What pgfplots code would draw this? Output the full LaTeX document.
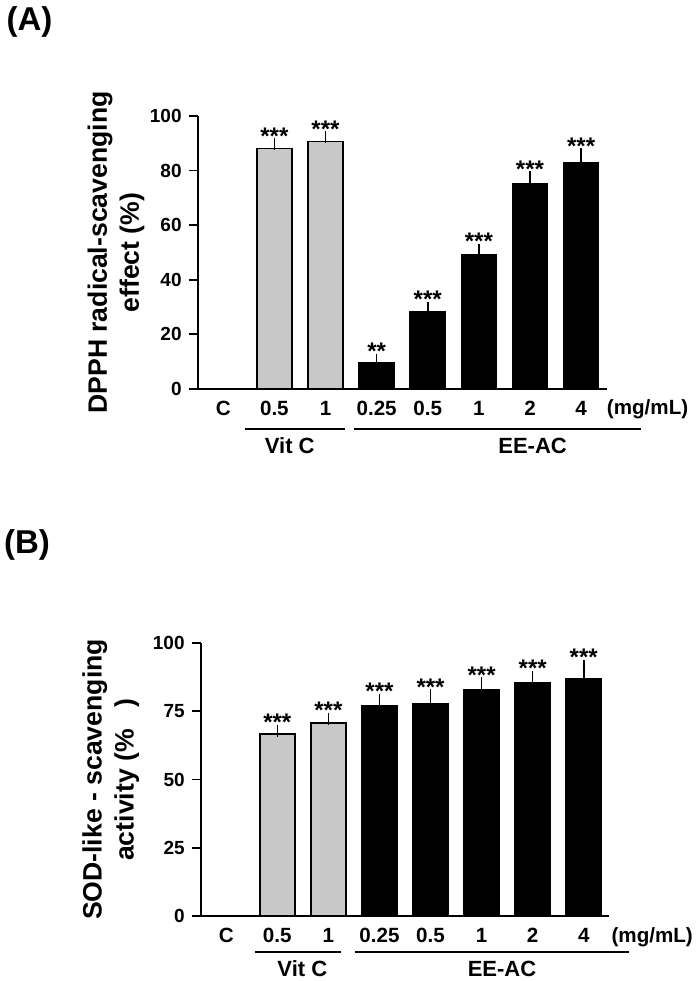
\documentclass[border=0pt]{standalone}
\usepackage{fontspec}
\setmainfont{Liberation Sans}
\usepackage{pgfplots}
\pgfplotsset{compat=1.18}
\definecolor{vitc}{RGB}{200,200,200}
\pgfplotsset{
 panel/.style={
  scale only axis, width=204.5pt, height=136.5pt,
  xmin=-0.5, xmax=7.5, ymin=0, ymax=100,
  axis x line*=bottom, axis y line*=left,
  axis line style={line width=0.9pt,-},
  xtick={0,...,7},
  xticklabels={C,0.5,1,0.25,0.5,1,2,4},
  x tick style={draw=none},
  xticklabel style={anchor=base, yshift=-8.5pt, font=\fontsize{10.3}{11}\selectfont\bfseries},
  y tick style={line width=0.9pt, black},
  tick align=outside,
  major tick length=4.5pt,
  yticklabel style={font=\fontsize{9.5}{10}\selectfont\bfseries, /pgf/number format/assume math mode=true},
  ylabel style={font=\fontsize{13.3}{16}\selectfont\bfseries, align=center, anchor=center},
  clip=false,
 },
 greybar/.style={ybar, bar width=17.5pt, bar shift=0pt, fill=vitc, draw=black, line width=0.8pt,
   error bars/.cd, y dir=plus, y explicit, error bar style={line width=0.8pt, black},
   error mark options={line width=0.8pt, mark size=3pt, black}},
 blackbar/.style={ybar, bar width=17.5pt, bar shift=0pt, fill=black, draw=black, line width=0.8pt,
   error bars/.cd, y dir=plus, y explicit, error bar style={line width=0.8pt, black},
   error mark options={line width=0.8pt, mark size=3pt, black}},
}
\tikzset{
 stars/.style={anchor=base, inner sep=0pt, font=\fontsize{12}{12}\selectfont\bfseries},
 grp/.style={anchor=base, inner sep=0pt, font=\fontsize{11}{11}\selectfont\bfseries},
 unit/.style={anchor=base, inner sep=0pt, font=\fontsize{10.3}{11}\selectfont\bfseries},
}
\begin{document}
\begin{tikzpicture}
\path[use as bounding box] (0,0) rectangle (350pt,490.5pt);
\node[font=\fontsize{16.5}{16.5}\selectfont\bfseries] at (14.75pt,479.75pt) {(A)};
\node[font=\fontsize{16.5}{16.5}\selectfont\bfseries] at (13.5pt,218pt) {(B)};
% Panel A
\begin{axis}[panel, at={(98.85pt,296pt)}, anchor=south west,
  ytick={0,20,40,60,80,100},
  ylabel={DPPH radical-scavenging\\effect (\%)},
  ylabel style={at={(axis description cs:-0.2,0.5)}}]
\addplot[greybar] coordinates {(1,88.1) +- (0,1.6) (2,90.6) +- (0,1.6)};
\addplot[blackbar] coordinates {(3,9.7) +- (0,1.0) (4,28.2) +- (0,1.5) (5,49.2) +- (0,1.8) (6,75.0) +- (0,2.5) (7,82.7) +- (0,3.3)};
\node[stars] at (axis cs:1,89.7) {***};
\node[stars] at (axis cs:2,92.2) {***};
\node[stars] at (axis cs:3,10.7) {**};
\node[stars] at (axis cs:4,29.7) {***};
\node[stars] at (axis cs:5,51.0) {***};
\node[stars] at (axis cs:6,77.5) {***};
\node[stars] at (axis cs:7,86.0) {***};
\node[unit] at ([yshift=-13pt]axis cs:8.3,0) {(mg/mL)};
\draw[line width=0.8pt] ([yshift=-20pt]axis cs:0.42,0) -- ([yshift=-20pt]axis cs:2.38,0);
\draw[line width=0.8pt] ([yshift=-20pt]axis cs:2.56,0) -- ([yshift=-20pt]axis cs:8.17,0);
\node[grp] at ([yshift=-32.5pt]axis cs:1.30,0) {Vit C};
\node[grp] at ([yshift=-32.5pt]axis cs:6.05,0) {EE-AC};
\end{axis}
% Panel B
\begin{axis}[panel, at={(100.35pt,32.5pt)}, anchor=south west, width=204.3pt,
  ytick={0,25,50,75,100},
  ylabel={SOD-like - scavenging\\activity (\%\ \ \ )},
  ylabel style={at={(axis description cs:-0.22,0.5)}}]
\addplot[greybar] coordinates {(1,66.7) +- (0,1.1) (2,70.7) +- (0,1.5)};
\addplot[blackbar] coordinates {(3,76.9) +- (0,2.4) (4,77.9) +- (0,2.9) (5,82.9) +- (0,2.4) (6,85.4) +- (0,2.2) (7,86.9) +- (0,4.8)};
\node[stars] at (axis cs:1,67.8) {***};
\node[stars] at (axis cs:2,72.2) {***};
\node[stars] at (axis cs:3,79.3) {***};
\node[stars] at (axis cs:4,80.8) {***};
\node[stars] at (axis cs:5,85.3) {***};
\node[stars] at (axis cs:6,87.6) {***};
\node[stars] at (axis cs:7,91.7) {***};
\node[unit] at ([yshift=-13pt]axis cs:8.34,0) {(mg/mL)};
\draw[line width=0.8pt] ([yshift=-18pt]axis cs:0.57,0) -- ([yshift=-18pt]axis cs:2.25,0);
\draw[line width=0.8pt] ([yshift=-18pt]axis cs:2.52,0) -- ([yshift=-18pt]axis cs:7.89,0);
\node[grp] at ([yshift=-30.5pt]axis cs:1.49,0) {Vit C};
\node[grp] at ([yshift=-30.5pt]axis cs:5.40,0) {EE-AC};
\end{axis}
\end{tikzpicture}
\end{document}
